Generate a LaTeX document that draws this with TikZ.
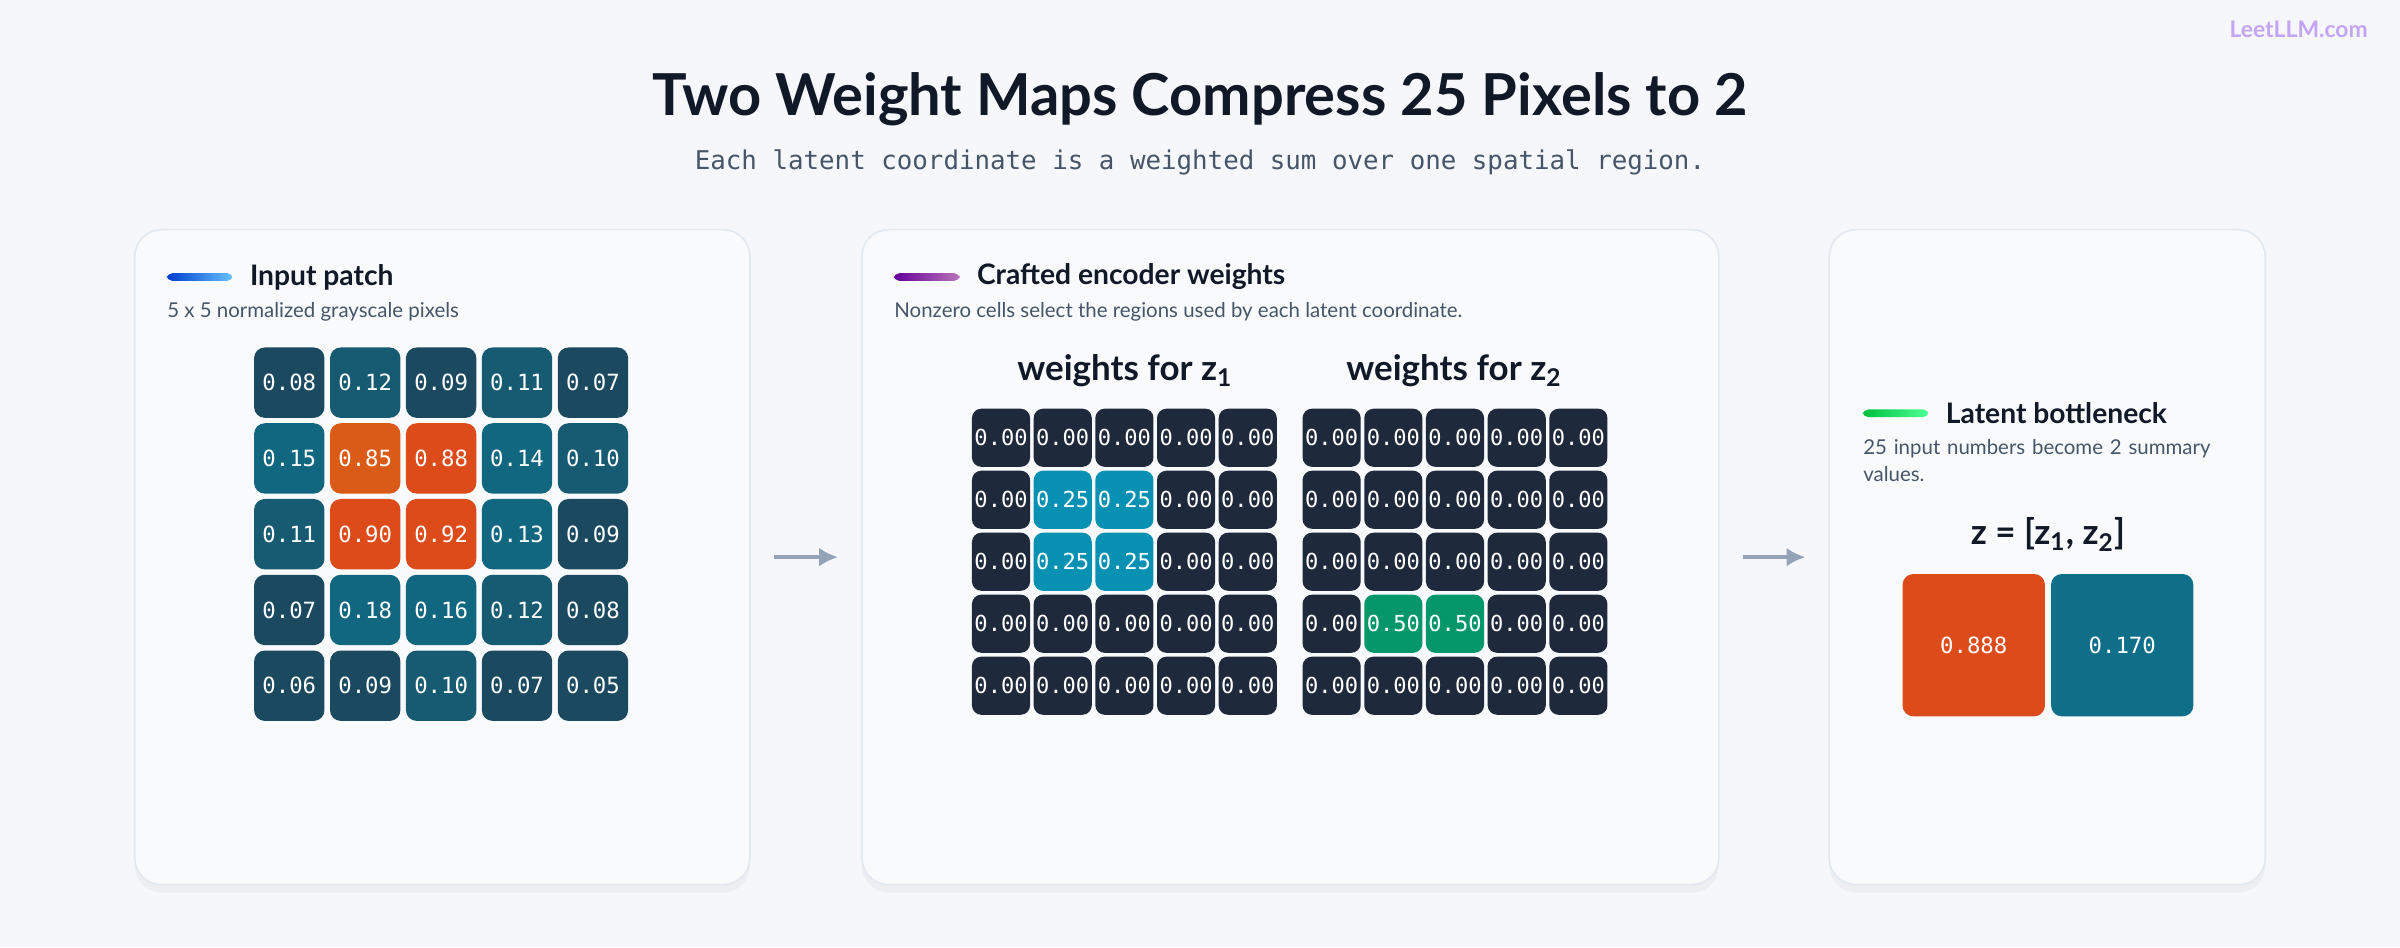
\documentclass[tikz,border=0pt]{standalone}
\usepackage{fontspec}
\setmainfont{Lato}
\newfontfamily\monofont{DejaVu Sans Mono}
\usetikzlibrary{arrows.meta,shadows}

\definecolor{pagebg}{HTML}{F5F7FA}
\definecolor{cardbg}{HTML}{F8FAFC}
\definecolor{cardline}{HTML}{E2E8F0}
\definecolor{ink}{HTML}{111827}
\definecolor{soft}{HTML}{475569}
\definecolor{arrowgray}{HTML}{94A3B8}
\definecolor{brand}{HTML}{C4A5F5}
\definecolor{cd}{HTML}{1B4A60}
\definecolor{cm}{HTML}{175B72}
\definecolor{cl}{HTML}{126780}
\definecolor{oa}{HTML}{DA5A17}
\definecolor{ob}{HTML}{DC4B19}
\definecolor{zz}{HTML}{1E293B}
\definecolor{wq}{HTML}{0891B2}
\definecolor{wh}{HTML}{059669}
\definecolor{outteal}{HTML}{0F6E88}

\tikzset{
  card/.style={draw=cardline, line width=0.6pt, fill=cardbg, rounded corners=10pt,
    drop shadow={opacity=0.07, shadow xshift=0pt, shadow yshift=-3pt}},
  cardtitle/.style={anchor=west, text=ink, font=\fontsize{10.5}{12}\selectfont\bfseries, inner sep=0pt},
  cardnote/.style={anchor=west, text=soft, font=\fontsize{7.6}{10}\selectfont, inner sep=0pt},
  pixel/.style={fill=#1, rounded corners=4pt, minimum width=0.92cm, minimum height=0.92cm,
    inner sep=0pt, text=white, font=\monofont\fontsize{8.3}{10}\selectfont},
  wcell/.style={fill=#1, rounded corners=3.5pt, minimum width=0.76cm, minimum height=0.76cm,
    inner sep=0pt, text=white, font=\monofont\fontsize{8.2}{10}\selectfont},
  gridhead/.style={text=ink, font=\fontsize{13}{15}\selectfont\bfseries},
  flow/.style={-{Latex[length=7pt,width=7pt]}, draw=arrowgray, line width=1.4pt, shorten <=0.3cm, shorten >=0.3cm}
}

\begin{document}
\begin{tikzpicture}[x=0.02cm, y=-0.02cm]
  \fill[pagebg] (0,0) rectangle (1568,619);
  \useasboundingbox (0,0) rectangle (1568,619);

  % Header
  \node[text=ink, font=\fontsize{21.5}{25}\selectfont\bfseries] (title) at (784,65) {Two Weight Maps Compress 25 Pixels to 2};
  \node[text=soft, font=\monofont\fontsize{9.6}{12}\selectfont] (subtitle) at (784,106) {Each latent coordinate is a weighted sum over one spatial region.};
  \node[anchor=east, text=brand, font=\fontsize{8.5}{10}\selectfont\bfseries] (brand) at (1553,19) {LeetLLM.com};

  % Cards
  \node[card, minimum width=8.04cm, minimum height=8.56cm] (input) at (289,364) {};
  \node[card, minimum width=11.2cm, minimum height=8.56cm] (enc) at (843,364) {};
  \node[card, minimum width=5.7cm, minimum height=8.56cm] (latent) at (1337.5,364) {};

  % Input patch
  \shade[left color=blue!70!cyan!80!black, right color=blue!40!cyan!60, rounded corners=2pt] (109,178.5) rectangle (152,183.5);
  \node[cardtitle] (intitle) at (163,181) {Input patch};
  \node[cardnote] (innote) at (109,204) {5 x 5 normalized grayscale pixels};
  \foreach \row [count=\r from 0] in {
      {0.08/cd,0.12/cm,0.09/cd,0.11/cm,0.07/cd},
      {0.15/cl,0.85/oa,0.88/ob,0.14/cl,0.10/cm},
      {0.11/cm,0.90/ob,0.92/ob,0.13/cl,0.09/cd},
      {0.07/cd,0.18/cl,0.16/cl,0.12/cm,0.08/cd},
      {0.06/cd,0.09/cd,0.10/cm,0.07/cd,0.05/cd}}
    \foreach \v/\c [count=\k from 0] in \row
      \node[pixel=\c] (p-\r-\k) at (189+49.6*\k, 250+49.5*\r) {\v};

  % Encoder weights
  \shade[left color=violet!80!blue, right color=violet!55, rounded corners=2pt] (584,178.5) rectangle (627,183.5);
  \node[cardtitle] (enctitle) at (638,181) {Crafted encoder weights};
  \node[cardnote] (encnote) at (584,204) {Nonzero cells select the regions used by each latent coordinate.};
  \node[gridhead] (ha) at (735,242) {weights for z\textsubscript{1}};
  \node[gridhead] (hb) at (950,242) {weights for z\textsubscript{2}};
  \foreach \r in {0,...,4}
    \foreach \k in {0,...,4} {
      \pgfmathtruncatemacro\qa{(\r==1 || \r==2) && (\k==1 || \k==2)}
      \pgfmathtruncatemacro\qb{\r==3 && (\k==1 || \k==2)}
      \ifnum\qa=1
        \node[wcell=wq] (wa-\r-\k) at (654+40.3*\k, 286+40.5*\r) {0.25};
      \else
        \node[wcell=zz] (wa-\r-\k) at (654+40.3*\k, 286+40.5*\r) {0.00};
      \fi
      \ifnum\qb=1
        \node[wcell=wh] (wb-\r-\k) at (870+40.3*\k, 286+40.5*\r) {0.50};
      \else
        \node[wcell=zz] (wb-\r-\k) at (870+40.3*\k, 286+40.5*\r) {0.00};
      \fi
    }

  % Latent bottleneck
  \shade[left color=green!50!teal, right color=green!60!cyan!70, rounded corners=2pt] (1217,267.5) rectangle (1260,272.5);
  \node[cardtitle] (lattitle) at (1271,270) {Latent bottleneck};
  \node[cardnote, anchor=north west, text width=4.7cm, align=left] (latnote) at (1217,287) {25 input numbers become 2 summary values.};
  \node[gridhead] (zvec) at (1338,349) {z = [z\textsubscript{1}, z\textsubscript{2}]};
  \node[pixel=ob, minimum width=1.86cm, minimum height=1.86cm] (z1) at (1289.5,421.5) {0.888};
  \node[pixel=outteal, minimum width=1.86cm, minimum height=1.86cm] (z2) at (1386.5,421.5) {0.170};

  % Connections
  \draw[flow] (input.east) -- (enc.west);
  \draw[flow] (enc.east) -- (latent.west);
\end{tikzpicture}
\end{document}
